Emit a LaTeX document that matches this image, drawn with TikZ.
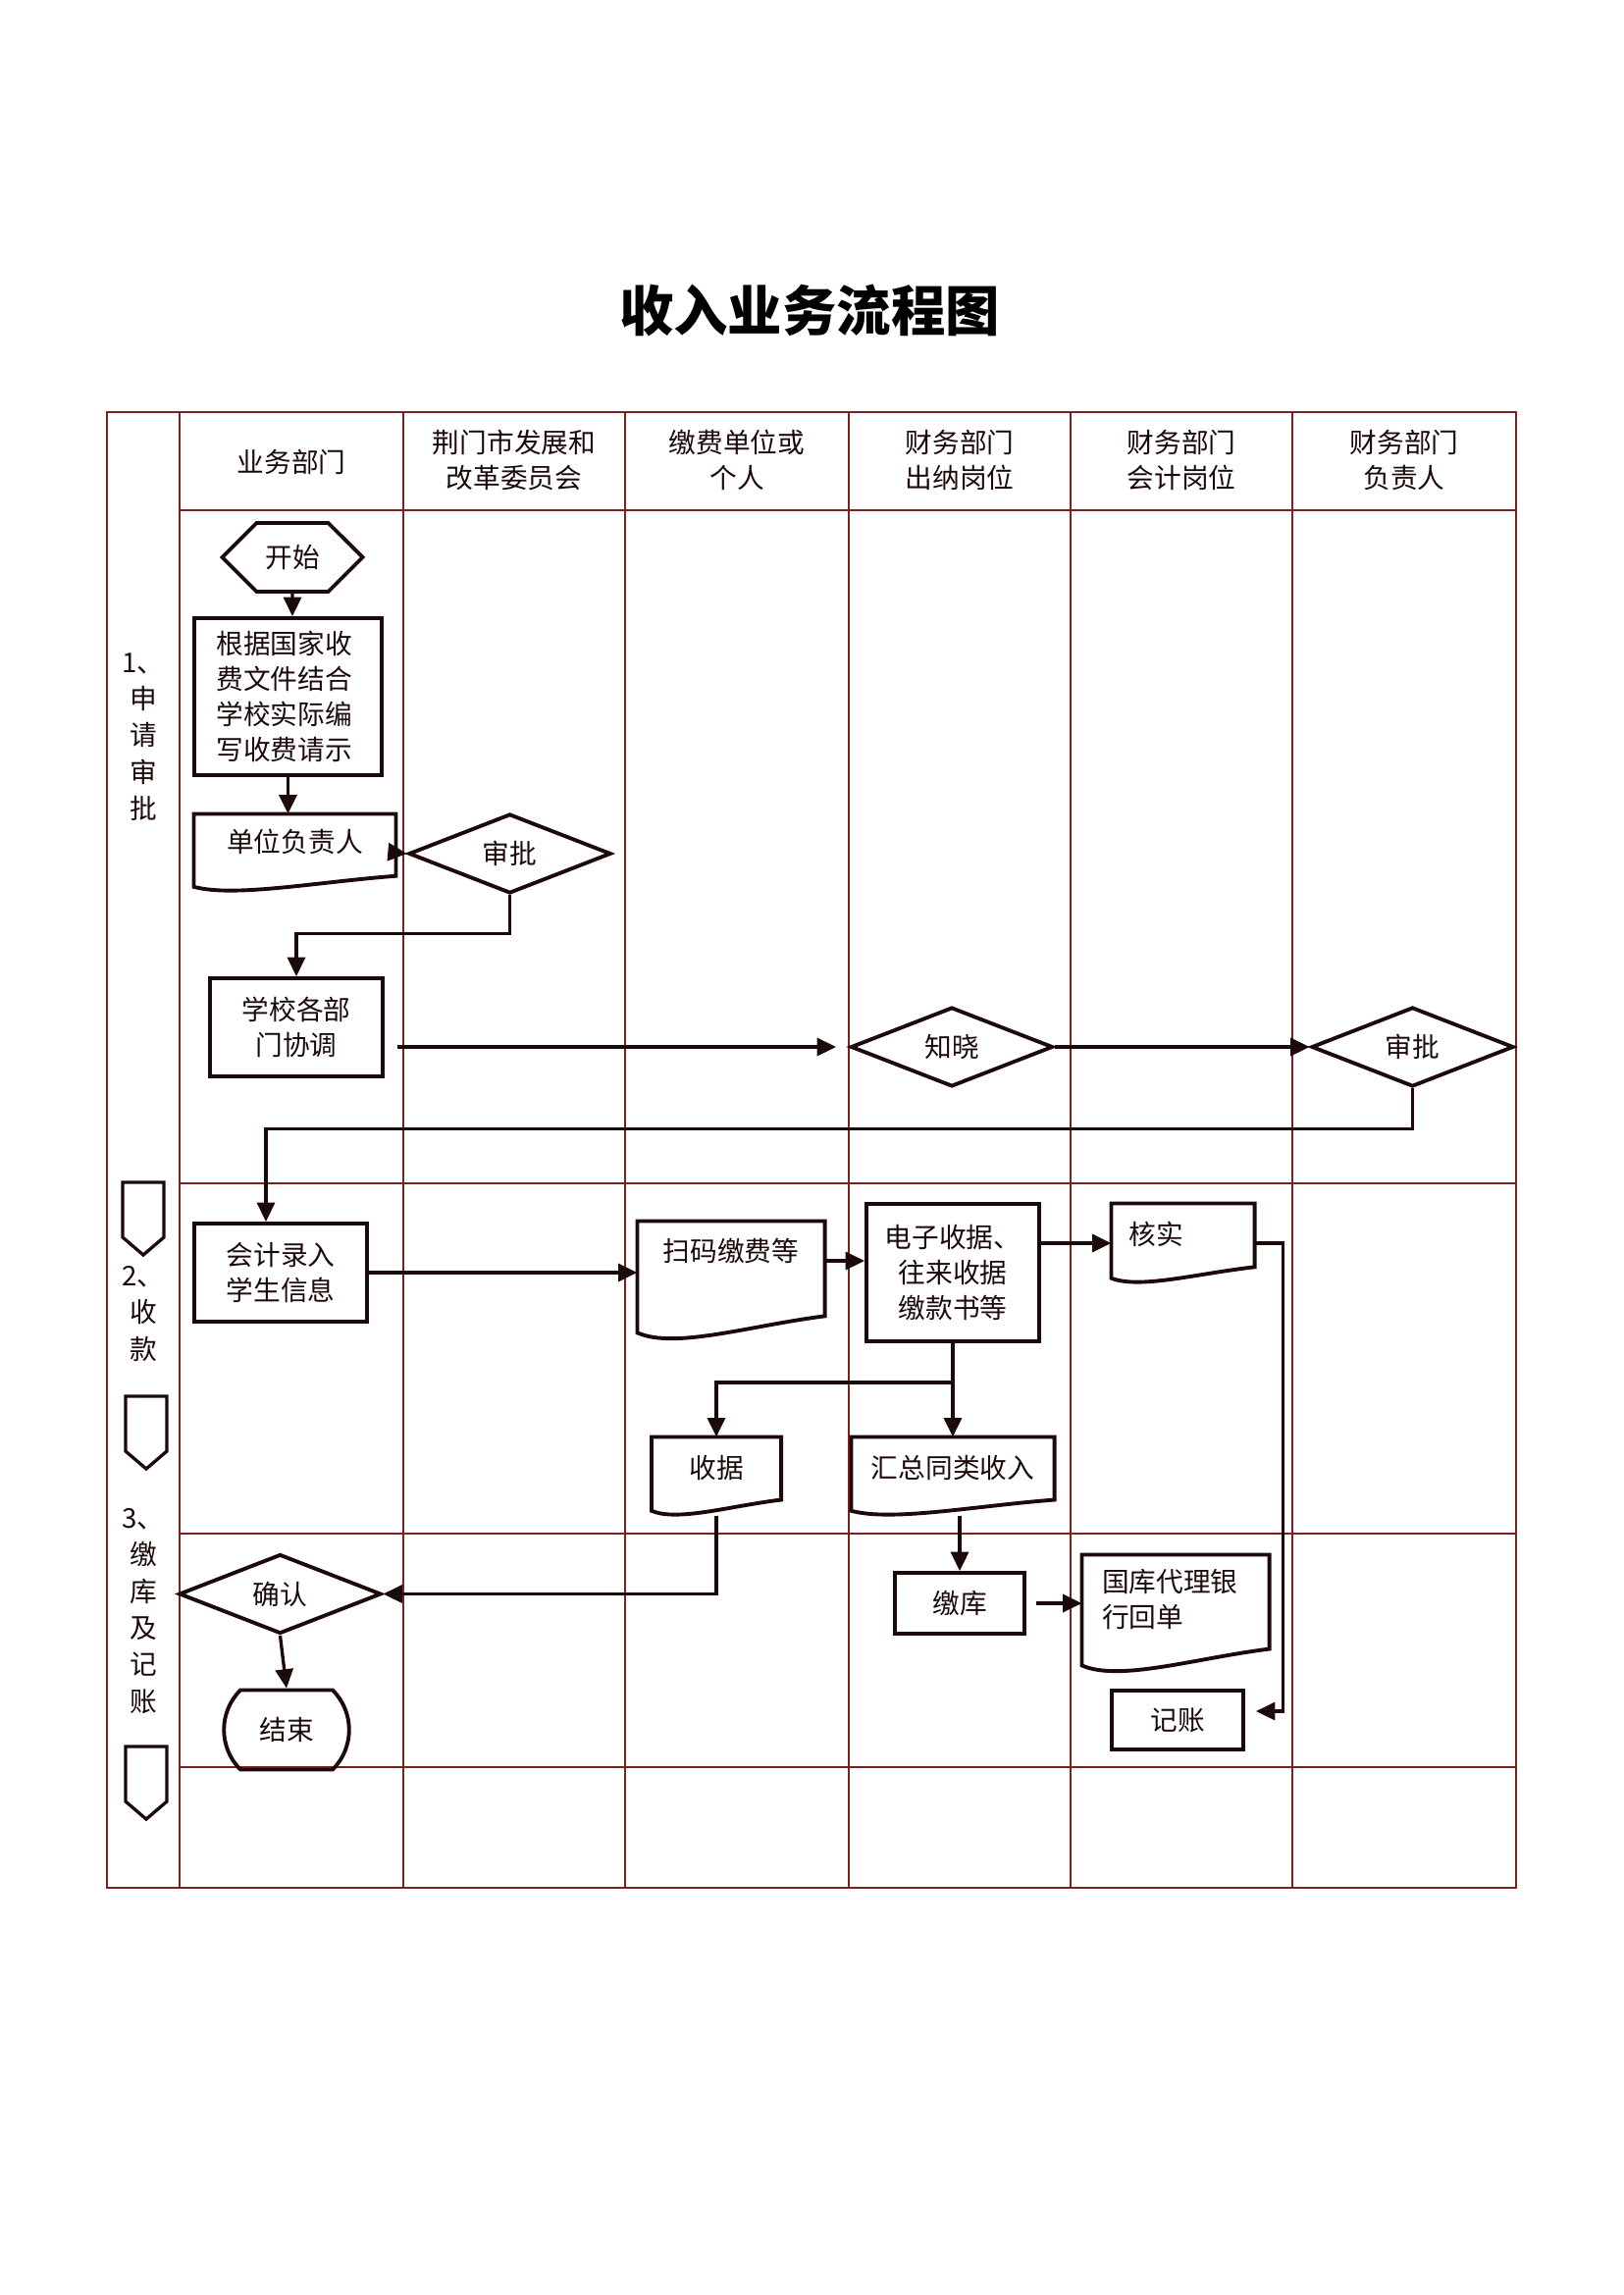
\documentclass[tikz,border=0pt]{standalone}
\usepackage{fontspec}
\setmainfont{Noto Sans CJK SC}
\usepackage{tikz}
\usetikzlibrary{shapes.geometric, shapes.misc, shapes.symbols, arrows.meta, positioning, calc}
\definecolor{GridRed}{HTML}{7A2222}
\definecolor{InkDark}{HTML}{1C0A0A}
\newlength{\unitpx}
\setlength{\unitpx}{0.0127cm}
% outline of a document box with a wavy lower edge
\newcommand{\wavydoc}[1]{%
  \draw[draw=InkDark, line width=1.4pt] let \p1=(#1.north west), \p2=(#1.south east) in
    (\p1) -- (\x2,\y1) -- (\x2,{\y2+0.2*(\y1-\y2)})
    .. controls ({\x1+0.6*(\x2-\x1)},{\y2+0.12*(\y1-\y2)}) and ({\x1+0.2*(\x2-\x1)},{\y2-0.08*(\y1-\y2)}) .. (\x1,{\y2+0.06*(\y1-\y2)}) -- cycle;}

\begin{document}
\begin{tikzpicture}[x={(0.0127cm,0)}, y={(0,-0.0127cm)},
    gridline/.style={draw=GridRed, line width=0.5pt},
    every node/.style={font=\fontsize{10pt}{13pt}\selectfont, text=InkDark},
    proc/.style={draw=InkDark, line width=1.4pt, rectangle, align=center, inner sep=2pt},
    decide/.style={draw=InkDark, line width=1.4pt, diamond, inner sep=0pt, minimum width=206\unitpx, minimum height=79\unitpx},
    docbox/.style={rectangle, inner sep=2pt},
    arr/.style={draw=InkDark, line width=1.2pt, -{Triangle[length=7pt, width=6.5pt]}},
    marker/.style={draw=InkDark, line width=1.2pt},
    stage/.style={align=center, font=\fontsize{10pt}{13.5pt}\selectfont}]
    \useasboundingbox (0,0) rectangle (1654,2339);

    % Title
    \node[font=\fontsize{20pt}{24pt}\selectfont\bfseries, text=black] (title) at (825,317) {收入业务流程图};

    % Swimlane grid
    \draw[gridline] (109,420) rectangle (1545,1924);
    \foreach \x in {183, 411, 637, 865, 1091, 1317} {
        \draw[gridline] (\x,420) -- (\x,1924);
    }
    \foreach \y in {520, 1206, 1563, 1801} {
        \draw[gridline] (183,\y) -- (1545,\y);
    }

    % Lane headers
    \node (hd1) at (297,471) {业务部门};
    \node[align=center] (hd2) at (524,469) {荆门市发展和\\改革委员会};
    \node[align=center] (hd3) at (751,469) {缴费单位或\\个人};
    \node[align=center] (hd4) at (978,469) {财务部门\\出纳岗位};
    \node[align=center] (hd5) at (1204,469) {财务部门\\会计岗位};
    \node[align=center] (hd6) at (1431,469) {财务部门\\负责人};

    % Stage labels
    \node[stage] (stage1) at (146,751) {1、\\申\\请\\审\\批};
    \node[stage] (stage2) at (146,1339) {2、\\收\\款};
    \node[stage] (stage3) at (146,1642) {3、\\缴\\库\\及\\记\\账};
    \foreach \x/\y in {146/1205, 149/1423, 149/1780} {
        \draw[marker] (\x-21,\y) -- (\x+21,\y) -- (\x+21,\y+56) -- (\x,\y+74) -- (\x-21,\y+56) -- cycle;
    }

    % Stage 1
    \node[draw=InkDark, line width=1.4pt, signal, signal to=east and west, minimum width=143\unitpx, minimum height=70\unitpx, inner sep=0pt] (start) at (298,568) {开始};
    \node[proc, minimum width=191\unitpx, minimum height=160\unitpx, text width=146\unitpx, align=left] (draft) at (293.5,710) {根据国家收\\费文件结合\\学校实际编\\写收费请示};
    \node[docbox, minimum width=205\unitpx, minimum height=78\unitpx, text depth=9pt] (head) at (300.5,869) {单位负责人};
    \wavydoc{head}
    \node[decide] (approve1) at (519.6,870) {审批};
    \node[proc, minimum width=176\unitpx, minimum height=100\unitpx] (coord) at (302,1047) {学校各部\\门协调};
    \node[decide] (notify) at (970,1067) {知晓};
    \node[decide] (approve2) at (1439.5,1067) {审批};

    % Stage 2
    \node[proc, minimum width=176\unitpx, minimum height=100\unitpx] (entry) at (286,1297) {会计录入\\学生信息};
    \node[docbox, minimum width=190\unitpx, minimum height=120\unitpx, text depth=22.8pt] (scan) at (745,1305) {扫码缴费等};
    \wavydoc{scan}
    \node[proc, minimum width=176\unitpx, minimum height=140\unitpx] (bill) at (971,1297) {电子收据、\\往来收据\\缴款书等};
    \node[docbox, minimum width=145\unitpx, minimum height=80\unitpx, text width=110\unitpx, align=left, text depth=7.7pt] (check) at (1205.5,1267) {核实};
    \wavydoc{check}
    \node[docbox, minimum width=131\unitpx, minimum height=79\unitpx, text depth=7.3pt] (receipt) at (730,1504.5) {收据};
    \wavydoc{receipt}
    \node[docbox, minimum width=206\unitpx, minimum height=79\unitpx, text depth=7.3pt] (summary) at (971,1504.5) {汇总同类收入};
    \wavydoc{summary}

    % Stage 3
    \node[decide] (confirm) at (285.5,1624.5) {确认};
    \node[draw=InkDark, line width=1.4pt, rounded rectangle, rounded rectangle arc length=90, minimum width=146\unitpx, minimum height=81\unitpx] (finish) at (292,1763) {结束};
    \node[proc, minimum width=132\unitpx, minimum height=62\unitpx] (deposit) at (978,1634) {缴库};
    \node[docbox, minimum width=190\unitpx, minimum height=119\unitpx, text width=150\unitpx, align=left, text depth=24pt] (bankslip) at (1198,1644.5) {国库代理银\\行回单};
    \wavydoc{bankslip}
    \node[proc, minimum width=134\unitpx, minimum height=60\unitpx] (post) at (1200,1753) {记账};

    % Connectors
    \draw[arr] (start) -- (start |- draft.north);
    \draw[arr] (draft.south) -- (draft.south |- head.north);
    \draw[arr] (head.east) -- (approve1.west);
    \draw[arr] (approve1.south) -- ++(0,39) -| (coord.north);
    \draw[arr, shorten <=13\unitpx, shorten >=13\unitpx] (coord.east |- notify.west) -- (notify.west);
    \draw[arr] (notify.east) -- (approve2.west);
    \draw[arr] (approve2.south) -- ++(0,41) -| ([xshift=-15\unitpx]entry.north);
    \draw[arr] (entry.east) -- (entry.east -| scan.west);
    \draw[arr] ([yshift=12\unitpx]bill.west -| scan.east) -- ([yshift=12\unitpx]bill.west);
    \draw[arr] (check.west -| bill.east) -- (check.west);
    \draw[arr] (check.east) -- ++(29,0) |- ([xshift=11\unitpx, yshift=9\unitpx]post.east);
    \coordinate (split) at ($(bill.south)+(0,40)$);
    \draw[arr] (bill.south) -- (summary.north);
    \draw[arr] (split) -| (receipt.north);
    \draw[arr] (receipt.south) |- (confirm.east);
    \draw[arr] (summary.south -| deposit.north) -- (deposit.north);
    \draw[arr, shorten <=10\unitpx] (deposit.east) -- (deposit.east -| bankslip.west);
    \draw[arr] (confirm.south) -- (finish.north);
\end{tikzpicture}
\end{document}
